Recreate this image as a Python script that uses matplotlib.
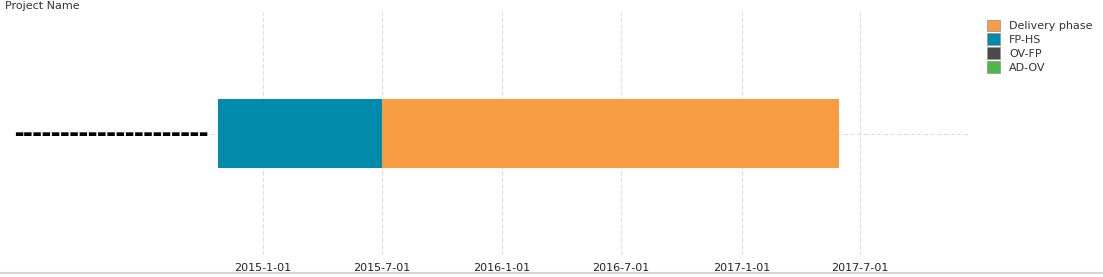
import matplotlib
matplotlib.use("Agg")
import matplotlib.pyplot as plt
import matplotlib.dates as mdates
from matplotlib.patches import Patch
from matplotlib.lines import Line2D
import pandas as pd

# ---- data ----
projects = ["▬" * 21]   # project name is redacted (scribbled out) in the reference
phase_names = ["Delivery phase", "FP-HS", "OV-FP", "AD-OV"]
phase_colors = ["#F89C44", "#008BAC", "#4A4A4A", "#4DB848"]
phase_starts = ["2015-07-01", "2014-10-24", None, None]
phase_ends = ["2017-05-30", "2015-07-01", None, None]
tick_dates = ["2015-01-01", "2015-07-01", "2016-01-01", "2016-07-01", "2017-01-01", "2017-07-01"]
tick_labels = ["2015-1-01", "2015-7-01", "2016-1-01", "2016-7-01", "2017-1-01", "2017-7-01"]
x_limits = ["2014-10-12", "2017-12-16"]

W, H = 1103, 277
fig = plt.figure(figsize=(W / 100, H / 100), dpi=100)
ax = fig.add_axes([210 / W, 1 - 255 / H, 760 / W, 243 / H])

for name, col, s, e in zip(phase_names, phase_colors, phase_starts, phase_ends):
    if s is None:
        continue
    sd = mdates.date2num(pd.Timestamp(s))
    ed = mdates.date2num(pd.Timestamp(e))
    ax.barh(0, ed - sd, left=sd, height=0.288, color=col, zorder=3)

ax.set_ylim(-0.5, 0.5)
ax.set_xlim(mdates.date2num(pd.Timestamp(x_limits[0])), mdates.date2num(pd.Timestamp(x_limits[1])))
ax.set_xticks([mdates.date2num(pd.Timestamp(d)) for d in tick_dates])
ax.set_xticklabels(tick_labels, fontsize=8, color="#222222")
ax.set_yticks([0])
ax.set_yticklabels(projects, fontsize=7, color="black")
ax.tick_params(axis="both", length=0)
ax.tick_params(axis="x", pad=6)
ax.tick_params(axis="y", pad=1)
ax.grid(True, axis="both", color="#dddddd", linestyle=(0, (4, 2)), linewidth=0.8, zorder=0)
for sp in ax.spines.values():
    sp.set_visible(False)

fig.text(5 / W, 1 - 6 / H, "Project Name", fontsize=8, color="#333333", ha="left", va="center")

handles = [Patch(facecolor=c, edgecolor="#999999", linewidth=0.6, label=n)
           for n, c in zip(phase_names, phase_colors)]
fig.legend(handles=handles, loc="upper left", bbox_to_anchor=(981 / W, 1 - 14 / H),
           frameon=False, fontsize=8, handlelength=1.2, handleheight=1.2,
           labelspacing=0.22, handletextpad=0.85, borderpad=0, labelcolor="#333333")

fig.add_artist(Line2D([0, 1], [1 - 273 / H, 1 - 273 / H], transform=fig.transFigure,
                      color="#d4d4d4", linewidth=1.5))

fig.savefig("out.png", dpi=100)
